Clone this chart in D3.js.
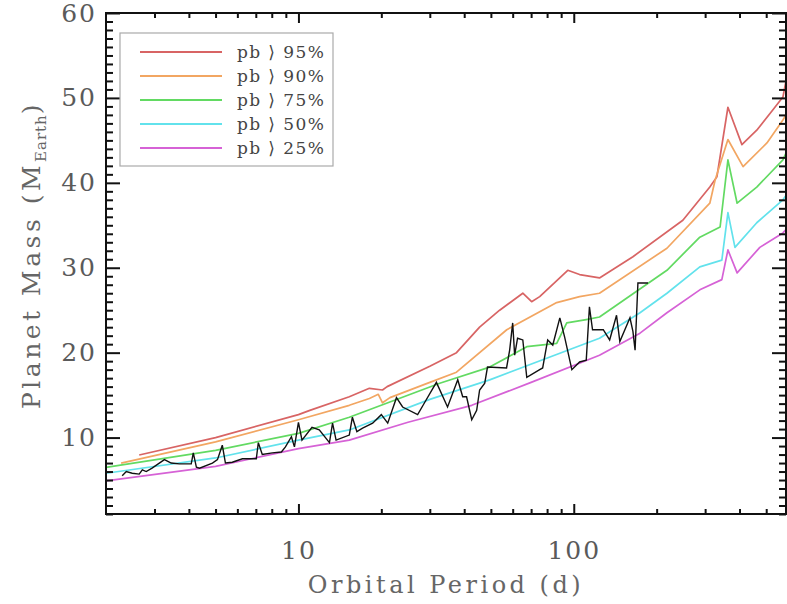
<!DOCTYPE html>
<html>
<head>
<meta charset="utf-8">
<script src="https://cdn.jsdelivr.net/npm/d3@7"></script>
<style>
  body { margin: 0; background: #fff; }
  text { font-family: "DejaVu Serif", serif; }
</style>
</head>
<body>
<svg id="chart" width="787" height="604"></svg>
<script>
// percentile curves, [period (d), mass (M_Earth)]
var curve95 = [[2.64,7.95],[5,10.0],[10,12.7],[11,13.2],[15.3,14.8],[18.1,15.8],[20.2,15.6],[21,16.0],
  [30,18.4],[37.5,20.0],[45.5,23.0],[53.8,25.0],[65.3,27.0],[70.3,26.0],[75.2,26.6],[95.1,29.7],[105,29.2],
  [124,28.8],[164,31.3],[249,35.6],[312,39.5],[331,40.7],[363,48.9],[408,44.5],[462,46.2],[529,48.6],
  [575,50.1],[590,52.0]];
var curve90 = [[2.27,7.0],[5,9.5],[10,12.1],[15.3,13.8],[18.1,14.6],[19.5,15.1],[20.2,14.1],[21.5,14.7],
  [30,16.5],[37.5,17.7],[57.1,22.7],[86.7,25.9],[105,26.6],[124,27.0],[218,32.3],[312,37.6],[326,40.3],
  [363,45.1],[412,41.9],[503,44.7],[575,47.4],[590,48.0]];
var curve75 = [[2,6.5],[5,8.5],[10,10.5],[15.3,12.4],[32.6,16.4],[49.5,18.3],[67.5,20.7],[86.7,21.1],
  [94.3,23.5],[111,23.9],[124,24.2],[218,29.7],[287,33.6],[340,34.8],[363,42.7],[392,37.6],
  [462,39.5],[575,42.7],[590,43.5]];
var curve50 = [[2,5.8],[5,7.6],[10,9.7],[15.3,10.9],[30,14.5],[49.5,16.8],[124,21.7],[174,24.7],
  [218,27.0],[287,30.1],[345,30.9],[363,36.5],[385,32.4],[462,35.3],[575,38.0],[590,38.5]];
var curve25 = [[2,4.9],[5,6.6],[10,8.7],[15.3,9.7],[25,11.8],[42.6,13.8],[70,16.5],[124,19.7],
  [174,22.3],[218,24.7],[287,27.4],[345,28.6],[363,32.1],[392,29.4],[474,32.4],[575,34.1],[590,34.5]];

// measured planets
var planets = [[2.29,5.5],[2.37,6.0],[2.49,5.8],[2.64,5.7],[2.71,6.2],[2.80,6.0],[2.94,6.4],[3.26,7.4],
  [3.45,7.0],[3.69,6.9],[4.08,6.9],[4.15,8.2],[4.26,6.5],[4.37,6.4],[4.87,7.0],[5.08,7.4],[5.29,9.1],
  [5.43,7.0],[5.75,7.1],[6.26,7.5],[7.03,7.5],[7.15,9.4],[7.39,8.0],[8.04,8.2],[8.67,8.3],[8.97,8.9],
  [9.43,10.1],[9.67,8.9],[10.0,11.8],[10.3,9.7],[11.2,11.2],[11.9,10.9],[12.96,9.4],[13.3,11.7],
  [13.7,9.7],[15.3,10.3],[15.7,12.4],[16.3,10.7],[17.1,11.1],[18.6,11.7],[20.0,12.7],[21.1,11.7],
  [22.7,14.7],[23.9,13.6],[27.1,12.7],[28.7,14.1],[31.7,16.5],[34.8,13.6],[37.9,16.8],[39.5,14.8],
  [40.8,14.8],[42.6,12.1],[44.4,13.2],[45.5,15.6],[47.5,16.4],[48.6,18.3],[57.0,18.2],[58.5,20.3],
  [60.0,23.5],[61.0,19.7],[62.5,21.7],[65.3,21.5],[67.5,17.1],[75.2,18.0],[77.1,18.2],[80.4,21.5],
  [83.9,20.9],[89.0,24.1],[92.7,21.8],[98.4,18.0],[105,18.9],[111,19.1],[114,25.4],[117,22.7],
  [128,22.7],[135,21.5],[143,24.4],[147,21.3],[160,24.1],[164,22.5],[167,20.3],[171,28.2],[186,28.2]];

var curves = [curve95, curve90, curve75, curve50, curve25];
var curveColors = ["#d86464", "#f2a662", "#62da62", "#62e2ec", "#d662d6"];
var legendLabels = ["pb \u27e9 95%", "pb \u27e9 90%", "pb \u27e9 75%", "pb \u27e9 50%", "pb \u27e9 25%"];

var xMajor = [10, 100];
var xMinor = [3,4,5,6,7,8,9,20,30,40,50,60,70,80,90,200,300,400,500];
var yMajor = [10, 20, 30, 40, 50, 60];
var yMinor = d3.range(1, 60).filter(function(v) { return v % 10 != 0; });

var plotLeft = 106, plotRight = 786, plotTop = 13, plotBottom = 514;

var svg = d3.select("#chart");
var x = d3.scaleLog().domain([2, 590]).range([plotLeft, plotRight]);
var y = d3.scaleLinear().domain([1, 60]).range([plotBottom, plotTop]);

svg.append("defs").append("clipPath").attr("id", "plotclip")
  .append("rect").attr("x", plotLeft).attr("y", plotTop)
  .attr("width", plotRight - plotLeft).attr("height", plotBottom - plotTop);

var line = d3.line()
  .x(function(d) { return x(d[0]); })
  .y(function(d) { return y(d[1]); });

var plot = svg.append("g").attr("clip-path", "url(#plotclip)");
curves.forEach(function(c, i) {
  plot.append("path").datum(c)
    .attr("d", line)
    .attr("fill", "none")
    .attr("stroke", curveColors[i])
    .attr("stroke-width", 1.7)
    .attr("stroke-linejoin", "round");
});
plot.append("path").datum(planets)
  .attr("d", line)
  .attr("fill", "none")
  .attr("stroke", "#111")
  .attr("stroke-width", 1.4);

// axes, ticks pointing inward on all four sides
function styleAxis(g) {
  g.select(".domain").remove();
  g.selectAll(".tick line").attr("stroke", "#111").attr("stroke-width", 2);
  g.selectAll(".tick text").attr("fill", "#5a5a5a").attr("font-size", 25).attr("letter-spacing", 2);
}
svg.append("g").attr("transform", "translate(0," + plotBottom + ")")
  .call(d3.axisBottom(x).tickValues(xMajor).tickSize(-10).tickPadding(27).tickFormat(d3.format("d")))
  .call(styleAxis);
svg.append("g").attr("transform", "translate(0," + plotBottom + ")")
  .call(d3.axisBottom(x).tickValues(xMinor).tickSize(-5).tickFormat(""))
  .call(styleAxis);
svg.append("g").attr("transform", "translate(0," + plotTop + ")")
  .call(d3.axisTop(x).tickValues(xMajor).tickSize(-10).tickFormat(""))
  .call(styleAxis);
svg.append("g").attr("transform", "translate(0," + plotTop + ")")
  .call(d3.axisTop(x).tickValues(xMinor).tickSize(-5).tickFormat(""))
  .call(styleAxis);
svg.append("g").attr("transform", "translate(" + plotLeft + ",0)")
  .call(d3.axisLeft(y).tickValues(yMajor).tickSize(-14).tickPadding(9))
  .call(styleAxis);
svg.append("g").attr("transform", "translate(" + plotLeft + ",0)")
  .call(d3.axisLeft(y).tickValues(yMinor).tickSize(-7).tickFormat(""))
  .call(styleAxis);
svg.append("g").attr("transform", "translate(" + plotRight + ",0)")
  .call(d3.axisRight(y).tickValues(yMajor).tickSize(-14).tickFormat(""))
  .call(styleAxis);
svg.append("g").attr("transform", "translate(" + plotRight + ",0)")
  .call(d3.axisRight(y).tickValues(yMinor).tickSize(-7).tickFormat(""))
  .call(styleAxis);

svg.append("rect")
  .attr("x", plotLeft).attr("y", plotTop)
  .attr("width", plotRight - plotLeft).attr("height", plotBottom - plotTop)
  .attr("fill", "none").attr("stroke", "#111").attr("stroke-width", 2);

// legend
var legend = svg.append("g");
legend.append("rect")
  .attr("x", 120).attr("y", 33).attr("width", 213).attr("height", 133)
  .attr("fill", "#fff").attr("stroke", "#aaa").attr("stroke-width", 1.2);
legendLabels.forEach(function(lab, i) {
  var ly = 52 + i * 24;
  legend.append("line")
    .attr("x1", 140).attr("x2", 222).attr("y1", ly).attr("y2", ly)
    .attr("stroke", curveColors[i]).attr("stroke-width", 2);
  legend.append("text")
    .attr("x", 237).attr("y", ly).attr("dy", "0.35em")
    .attr("font-size", 17).attr("fill", "#444").attr("letter-spacing", 1.4)
    .text(lab);
});

// axis titles
svg.append("text")
  .attr("x", 446).attr("y", 593)
  .attr("text-anchor", "middle")
  .attr("font-size", 24).attr("fill", "#666").attr("letter-spacing", 3.5)
  .text("Orbital Period (d)");

var yt = svg.append("text")
  .attr("transform", "translate(40,255) rotate(-90)")
  .attr("text-anchor", "middle")
  .attr("font-size", 25).attr("fill", "#666").attr("letter-spacing", 3.5);
yt.append("tspan").text("Planet Mass (M");
yt.append("tspan").attr("font-size", 15).attr("dy", 6).attr("letter-spacing", 1).text("Earth");
yt.append("tspan").attr("dy", -6).text(")");
</script>
</body>
</html>
